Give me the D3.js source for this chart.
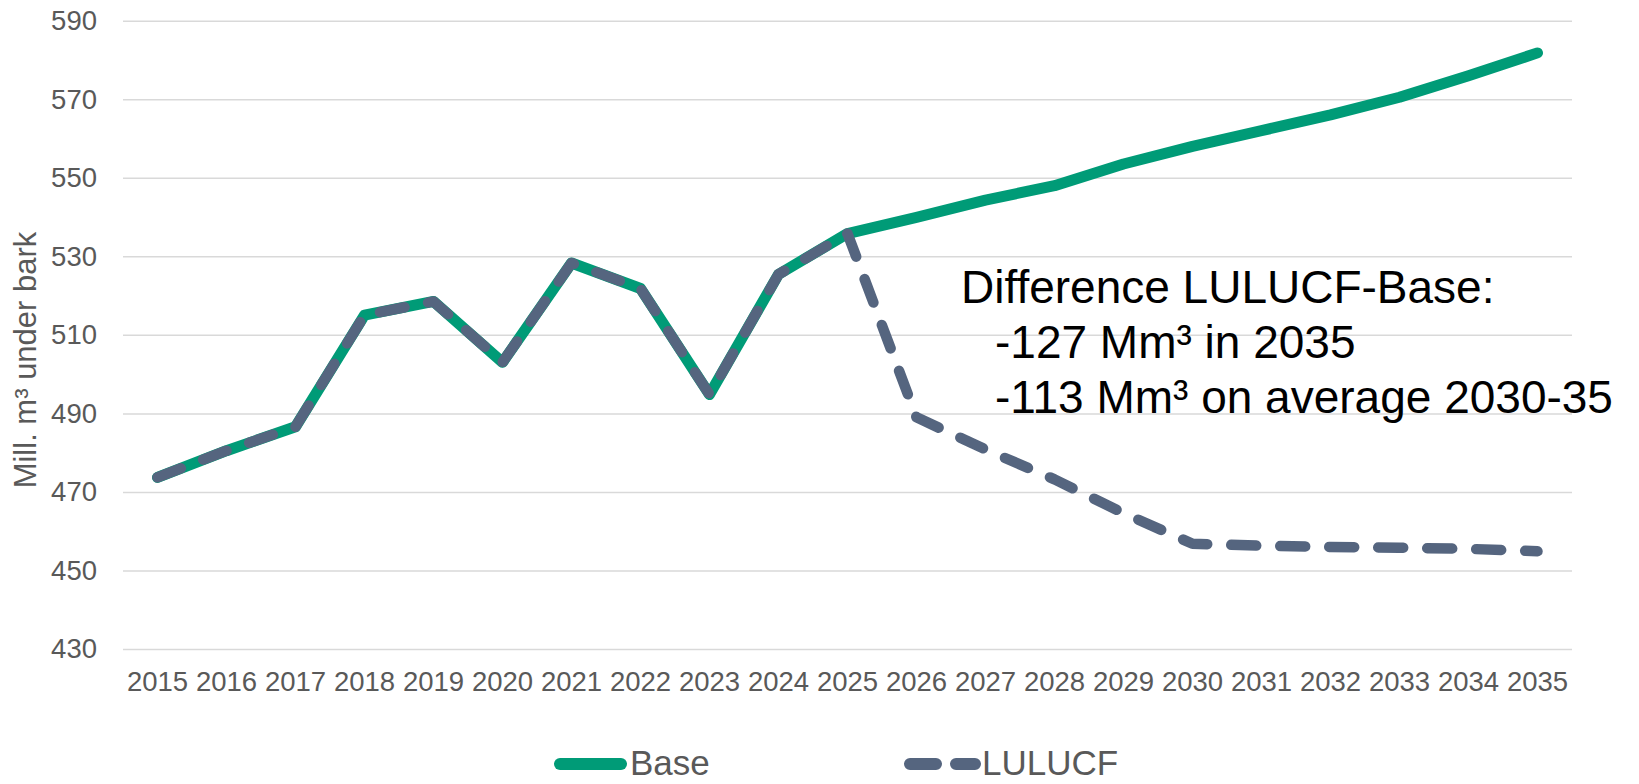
<!DOCTYPE html>
<html>
<head>
<meta charset="utf-8">
<script src="https://cdn.jsdelivr.net/npm/d3@7"></script>
<style>
    body { margin: 0; background: #ffffff; }
    svg { display: block; }
    text { font-family: "Liberation Sans", Arial, sans-serif; }
</style>
</head>
<body>
<div id="chart"></div>
<script>
let width = 1639;
let height = 784;

let years = ["2015", "2016", "2017", "2018", "2019", "2020", "2021", "2022", "2023", "2024", "2025",
    "2026", "2027", "2028", "2029", "2030", "2031", "2032", "2033", "2034", "2035"];
let baseValues = [473.7, 480.5, 486.6, 515.0, 518.5, 503.0, 528.3, 521.8, 494.8, 525.4, 535.8,
    539.9, 544.3, 548.0, 553.5, 558.0, 562.0, 566.0, 570.5, 576.0, 581.8];
let lulucfValues = [473.7, 480.5, 486.6, 515.0, 518.5, 503.0, 528.3, 521.8, 494.8, 525.4, 535.8,
    489.0, 480.8, 473.2, 464.6, 456.8, 456.3, 456.0, 455.8, 455.5, 454.9];
let yTicks = [430, 450, 470, 490, 510, 530, 550, 570, 590];
let yTitle = "Mill. m³ under bark";
let noteLines = ["Difference LULUCF-Base:", "-127 Mm³ in 2035", "-113 Mm³ on average 2030-35"];

let green = "#009b77";
let slate = "#55657f";
let grey = "#595959";

let svg = d3.select("#chart")
    .append("svg")
    .attr("width", width)
    .attr("height", height);

let x = d3.scaleBand()
    .domain(years)
    .range([123, 1572])
    .padding(0);

let y = d3.scaleLinear()
    .domain([430, 590])
    .range([649, 20.7]);

// grid + y labels
let yAxis = svg.append("g")
    .attr("transform", "translate(123,0)")
    .call(d3.axisLeft(y).tickValues(yTicks).tickSize(-(1572 - 123)).tickPadding(26));
yAxis.select(".domain").remove();
yAxis.selectAll(".tick line")
    .attr("stroke", "#d9d9d9")
    .attr("stroke-width", 1.5);
yAxis.selectAll(".tick text")
    .attr("fill", grey)
    .attr("font-size", 27.5);

let xAxis = svg.append("g")
    .attr("transform", "translate(0,649)")
    .call(d3.axisBottom(x).tickSize(0).tickPadding(22));
xAxis.select(".domain").remove();
xAxis.selectAll(".tick text")
    .attr("fill", grey)
    .attr("font-size", 27.5);

svg.append("text")
    .attr("transform", "translate(36,360) rotate(-90)")
    .attr("text-anchor", "middle")
    .attr("fill", grey)
    .attr("font-size", 31)
    .text(yTitle);

let line = d3.line()
    .x((d, i) => x(years[i]) + x.bandwidth() / 2)
    .y(d => y(d));

svg.append("path")
    .datum(baseValues)
    .attr("d", line)
    .attr("fill", "none")
    .attr("stroke", green)
    .attr("stroke-width", 11)
    .attr("stroke-linejoin", "round")
    .attr("stroke-linecap", "round");

svg.append("path")
    .datum(lulucfValues)
    .attr("d", line)
    .attr("fill", "none")
    .attr("stroke", slate)
    .attr("stroke-width", 10.5)
    .attr("stroke-dasharray", "25,24")
    .attr("stroke-linejoin", "round")
    .attr("stroke-linecap", "round");

// annotation
let note = svg.append("text")
    .attr("fill", "#000000")
    .attr("font-size", 46);
note.selectAll("tspan")
    .data(noteLines)
    .enter()
    .append("tspan")
    .attr("x", (d, i) => i == 0 ? 961 : 995)
    .attr("y", (d, i) => 303 + i * 55)
    .text(d => d);

// legend
svg.append("line")
    .attr("x1", 560).attr("x2", 621)
    .attr("y1", 764).attr("y2", 764)
    .attr("stroke", green)
    .attr("stroke-width", 12)
    .attr("stroke-linecap", "round");
svg.append("text")
    .attr("x", 630).attr("y", 775)
    .attr("fill", grey)
    .attr("font-size", 35)
    .text("Base");

svg.append("line")
    .attr("x1", 910).attr("x2", 975)
    .attr("y1", 764).attr("y2", 764)
    .attr("stroke", slate)
    .attr("stroke-width", 12)
    .attr("stroke-dasharray", "26,20")
    .attr("stroke-linecap", "round");
svg.append("text")
    .attr("x", 982).attr("y", 775)
    .attr("fill", grey)
    .attr("font-size", 35)
    .text("LULUCF");
</script>
</body>
</html>
